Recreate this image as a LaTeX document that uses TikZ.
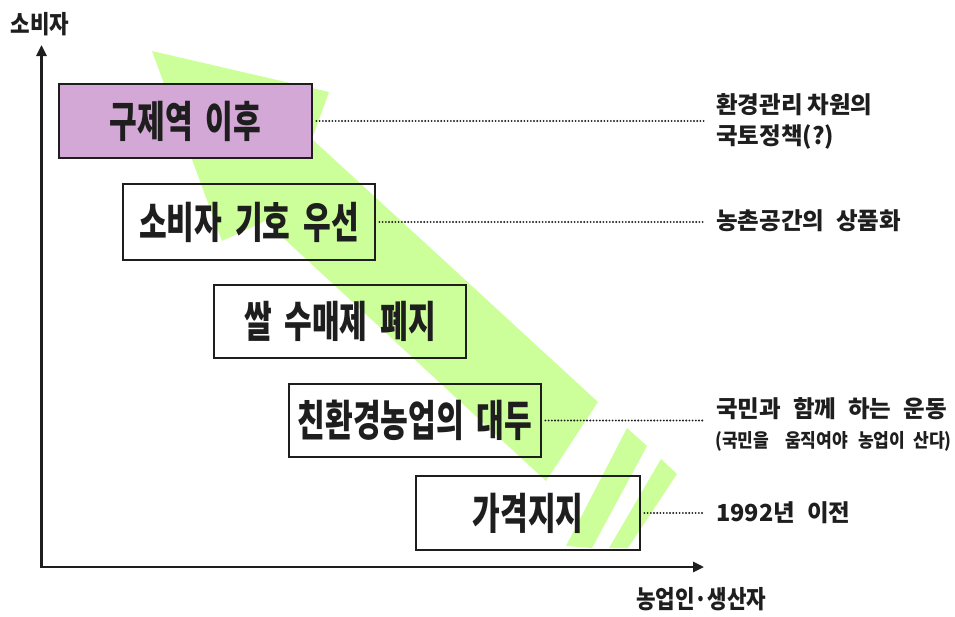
\documentclass[tikz,border=0pt]{standalone}
\usepackage{fontspec}
\usetikzlibrary{arrows.meta}
\newfontfamily\krbox{Noto Sans CJK KR}[FakeStretch=0.7]
\newfontfamily\krlab{Noto Sans CJK KR}[FakeStretch=1.0]
\newfontfamily\krsmall{Noto Sans CJK KR}[FakeStretch=0.9]
\newfontfamily\kraxis{Noto Sans CJK KR}[FakeStretch=0.85]
\definecolor{arrowgreen}{RGB}{204,255,153}
\definecolor{boxpurple}{RGB}{212,168,214}
\definecolor{ink}{RGB}{30,30,30}
\begin{document}
\begin{tikzpicture}[x=1pt,y=-1pt,
  box/.style={draw=ink, line width=2.8pt, inner sep=0pt, text=ink,
    font=\fontsize{43}{45}\selectfont\krbox\bfseries},
  lab/.style={anchor=west, inner sep=0pt, text=ink, align=left,
    font=\fontsize{23.5}{31}\selectfont\krlab\bfseries},
  smalllab/.style={anchor=west, inner sep=0pt, text=ink,
    font=\fontsize{19}{21}\selectfont\krsmall\bfseries},
  axislab/.style={inner sep=0pt, text=ink,
    font=\fontsize{25}{27}\selectfont\kraxis\bfseries},
  dotline/.style={draw=ink, line width=2.1pt, line cap=round,
    dash pattern=on 0pt off 3.2pt, shorten <=3pt, shorten >=11pt},
  axisline/.style={draw=ink, line width=2.6pt,
    {Triangle[length=11pt,width=10pt]}-{Triangle[length=11pt,width=10pt]}}
]
\path[use as bounding box] (0,0) rectangle (955,616);

% green striped arrow
\fill[arrowgreen] (152,51) -- (329,92) -- (312,139) -- (598,402) -- (546,481)
  -- (265,221) -- (222,241) -- cycle;
\fill[arrowgreen] (627,428) -- (647,446) -- (592,548) -- (566,546) -- cycle;
\fill[arrowgreen] (661,459) -- (677,474) -- (628,548) -- (609,548) -- cycle;

% boxes
\node[box, fill=boxpurple, minimum width=253pt, minimum height=74pt] (b1) at (185.5,121)
  {구제역\hspace{0.3em}이후};
\node[box, minimum width=252pt, minimum height=76pt] (b2) at (249,222)
  {소비자\hspace{0.3em}기호\hspace{0.3em}우선};
\node[box, minimum width=252pt, minimum height=73pt] (b3) at (340,321.5)
  {쌀\hspace{0.3em}수매제\hspace{0.3em}폐지};
\node[box, minimum width=252pt, minimum height=73pt] (b4) at (415,420.5)
  {친환경농업의\hspace{0.3em}대두};
\node[box, minimum width=224pt, minimum height=74pt] (b5) at (528,513)
  {가격지지};

% labels
\node[lab] (l1) at (716,121) {환경관리\hspace{5pt}차원의\\국토정책(?)};
\node[lab] (l2) at (716,221) {농촌공간의\hspace{12pt}상품화};
\node[lab] (l4) at (716,409) {국민과\hspace{12pt}함께\hspace{12pt}하는\hspace{12pt}운동};
\node[smalllab] (l4b) at (715,441) {(국민을\hspace{16pt}움직여야\hspace{10pt}농업이\hspace{8pt}산다)};
\node[lab] (l5) at (716,513) {1992년\hspace{12pt}이전};

% dotted connectors
\draw[dotline] (b1.east) -- (b1.east -| l1.west);
\draw[dotline] (b2.east) -- (b2.east -| l2.west);
\draw[dotline] (b4.east) -- (b4.east -| l4.west);
\draw[dotline] (b5.east) -- (b5.east -| l5.west);

% axes
\coordinate (ytop) at (41.5,45);
\coordinate (orig) at (41.5,567);
\coordinate (xend) at (704,567);
\draw[axisline] (ytop) -- (orig) -- (xend);
\node[axislab] (ylab) at (40,24) {소비자};
\node[axislab, anchor=west] (xlab) at (636,599) {농업인·생산자};
\end{tikzpicture}
\end{document}
